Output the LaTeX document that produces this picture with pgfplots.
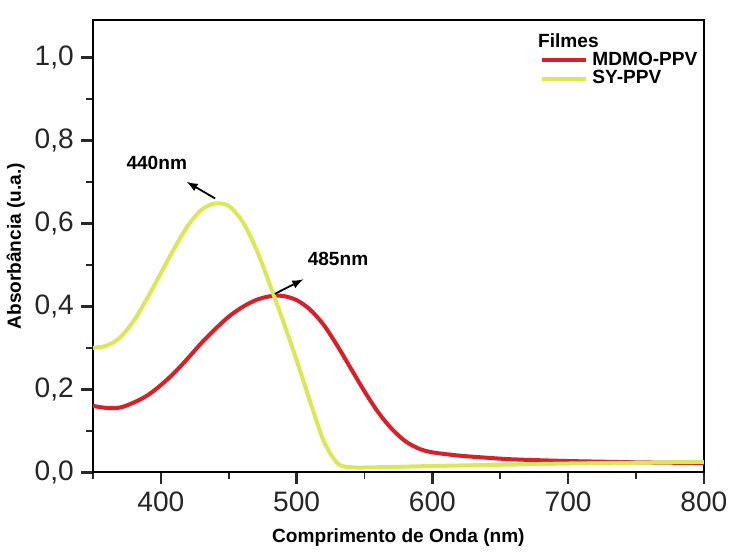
\documentclass[border=0pt]{standalone}
\usepackage{pgfplots}
\pgfplotsset{compat=1.18}
\usepackage{fontspec}
\setmainfont{Liberation Sans}
\definecolor{mdmored}{RGB}{214,32,42}
\definecolor{syyellow}{RGB}{218,232,88}
\definecolor{tickgray}{RGB}{40,40,40}
\begin{document}
\begin{tikzpicture}
\begin{axis}[
  scale only axis,
  width=304pt, height=225pt,
  xmin=350, xmax=800,
  ymin=0, ymax=1.09,
  xtick={400,500,600,700,800},
  minor xtick={350,450,550,650,750},
  ytick={0,0.2,0.4,0.6,0.8,1.0},
  minor ytick={0.1,0.3,0.5,0.7,0.9},
  tick align=outside,
  xtick pos=left, ytick pos=left,
  major tick length=6pt, minor tick length=3.5pt,
  major tick style={draw=tickgray, line width=1.3pt},
  minor tick style={draw=tickgray, line width=0.8pt},
  axis line style={line width=0.9pt},
  /pgf/number format/assume math mode=true,
  yticklabel style={/pgf/number format/.cd, use comma, fixed, fixed zerofill, precision=1},
  ticklabel style={font=\fontsize{14}{16}\selectfont, text=black!85},
  xlabel={\textbf{Comprimento de Onda (nm)}},
  ylabel={\textbf{Absorbância (u.a.)}},
  label style={font=\fontsize{9.5}{11}\selectfont},
  xlabel style={yshift=-2pt},
  ylabel style={yshift=-2pt},
  legend style={at={(1.0,0.985)}, anchor=north east, draw=none, fill=none,
                font=\fontsize{9.5}{10}\selectfont\bfseries, row sep=-3pt,
                inner sep=1pt},
  legend cell align=left,
  legend image post style={line width=2pt},
  legend image code/.code={\draw[#1] (0pt,0pt) -- (22pt,0pt);},
]
\addlegendimage{empty legend}
\addlegendentry{\hspace{-27pt}Filmes}
\addplot[color=mdmored, line width=2pt, smooth] coordinates {
  (350,0.160)(360,0.155)(370,0.156)(380,0.168)(390,0.185)(400,0.210)
  (410,0.240)(420,0.275)(430,0.312)(440,0.345)(450,0.375)(460,0.398)
  (470,0.415)(480,0.424)(490,0.425)(500,0.415)(510,0.392)(520,0.355)
  (530,0.305)(540,0.250)(550,0.195)(560,0.145)(570,0.105)(580,0.075)
  (590,0.057)(600,0.048)(620,0.040)(640,0.035)(660,0.031)(700,0.027)
  (750,0.024)(800,0.022)
};
\addlegendentry{MDMO-PPV}
\addplot[color=syyellow, line width=2pt, smooth] coordinates {
  (350,0.300)(360,0.305)(370,0.325)(380,0.365)(390,0.420)(400,0.480)
  (410,0.540)(420,0.595)(430,0.633)(440,0.648)(450,0.642)(460,0.605)
  (470,0.540)(480,0.455)(490,0.365)(500,0.270)(510,0.170)(520,0.075)
  (530,0.022)(540,0.012)(560,0.012)(600,0.015)(650,0.018)(700,0.021)
  (750,0.023)(800,0.025)
};
\addlegendentry{SY-PPV}
\draw[-latex, line width=0.9pt] (axis cs:440,0.660) -- (axis cs:419,0.700);
\node[font=\fontsize{9.5}{11}\selectfont\bfseries, anchor=south] at (axis cs:397,0.712) {440nm};
\draw[-latex, line width=0.9pt] (axis cs:484,0.430) -- (axis cs:505,0.465);
\node[font=\fontsize{9.5}{11}\selectfont\bfseries, anchor=south west] at (axis cs:503,0.480) {485nm};
\coordinate (tr) at (rel axis cs:1,1);
\end{axis}
\path (tr) ++(13pt,10pt) coordinate (pad);
\path (pad) rectangle (tr);
\end{tikzpicture}
\end{document}
